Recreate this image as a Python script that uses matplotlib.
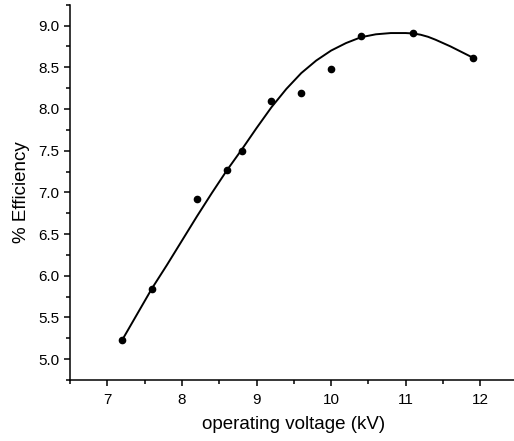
import matplotlib
matplotlib.use("Agg")
import matplotlib.pyplot as plt
from matplotlib.ticker import MultipleLocator, FormatStrFormatter

# measured points
voltage_kv = [7.2, 7.6, 8.2, 8.6, 8.8, 9.2, 9.6, 10.0, 10.4, 11.1, 11.9]
efficiency = [5.23, 5.84, 6.92, 7.27, 7.50, 8.095, 8.19, 8.48, 8.87, 8.905, 8.615]

# fitted curve
fit_kv = [7.2, 7.4, 7.6, 7.8, 8.0, 8.2, 8.4, 8.6, 8.8, 9.0, 9.2, 9.4, 9.6,
          9.8, 10.0, 10.2, 10.4, 10.6, 10.8, 11.0, 11.1, 11.2, 11.3, 11.4,
          11.5, 11.6, 11.7, 11.8, 11.9]
fit_eff = [5.23, 5.54, 5.85, 6.13, 6.42, 6.71, 6.99, 7.26, 7.51, 7.77, 8.02,
           8.24, 8.43, 8.58, 8.70, 8.79, 8.86, 8.895, 8.91, 8.91, 8.905, 8.89,
           8.865, 8.83, 8.79, 8.75, 8.705, 8.66, 8.615]

plt.rcParams["font.family"] = ["Liberation Sans", "DejaVu Sans"]
plt.rcParams["font.size"] = 11

fig = plt.figure(figsize=(5.14, 4.41), dpi=100)
ax = fig.add_axes([70 / 514, 61 / 441, 447.6 / 514, 375.3 / 441])

ax.plot(fit_kv, fit_eff, color="black", linewidth=1.4, zorder=2)
ax.plot(voltage_kv, efficiency, linestyle="None", marker="o", color="black",
        markersize=4.5, zorder=3)

ax.set_xlim(6.5, 12.5)
ax.set_ylim(4.75, 9.25)
ax.xaxis.set_major_locator(MultipleLocator(1))
ax.xaxis.set_minor_locator(MultipleLocator(0.5))
ax.yaxis.set_major_locator(MultipleLocator(0.5))
ax.yaxis.set_minor_locator(MultipleLocator(0.25))
ax.yaxis.set_major_formatter(FormatStrFormatter("%.1f"))

for side in ("top", "right"):
    ax.spines[side].set_visible(False)
for side in ("left", "bottom"):
    ax.spines[side].set_linewidth(1.1)

ax.tick_params(which="major", direction="out", length=4.5, width=1.1)
ax.tick_params(which="minor", direction="out", length=3, width=1.1)
ax.tick_params(axis="x", which="major", pad=5)
ax.tick_params(axis="y", which="major", pad=3)

ax.set_xlabel("operating voltage (kV)", fontsize=13.5, labelpad=6)
ax.set_ylabel("% Efficiency", fontsize=13.5, labelpad=6)

fig.savefig("out.png", dpi=100)
